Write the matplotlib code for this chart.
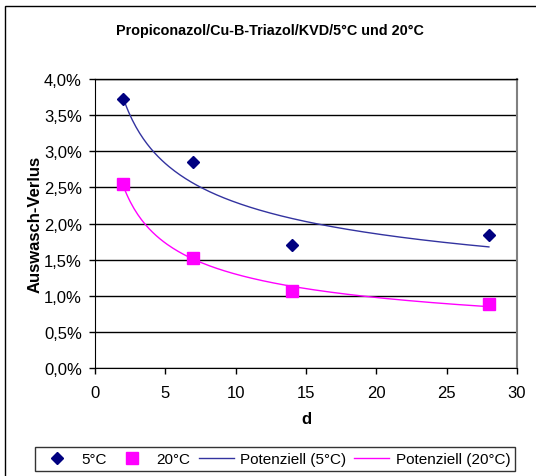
import numpy as np
import matplotlib
matplotlib.use('Agg')
from matplotlib import pyplot as plt
from matplotlib.ticker import FuncFormatter, MultipleLocator
from matplotlib.patches import Rectangle

plt.rcParams['font.family'] = ['Liberation Sans', 'DejaVu Sans']

# Auswasch-Verlust in Prozent je Versuchstag
days = np.array([2, 7, 14, 28])
loss_5c = np.array([3.72, 2.85, 1.70, 1.84])
loss_20c = np.array([2.55, 1.52, 1.07, 0.88])


def power_trend(x, y):
    # Potenzielle Trendlinie y = a * x^b (Anpassung im log-log-Raum)
    b, ln_a = np.polyfit(np.log(x), np.log(y), 1)
    xs = np.linspace(x.min(), x.max(), 200)
    return xs, np.exp(ln_a) * xs ** b


fig = plt.figure(figsize=(5.36, 4.77), dpi=100)
ax = fig.add_axes([0.1772, 0.2264, 0.7874, 0.6059])

xs5, ys5 = power_trend(days, loss_5c)
xs20, ys20 = power_trend(days, loss_20c)

ax.plot(days, loss_5c, linestyle='none', marker='D', color='#000080',
        markersize=6.5, label='5°C', zorder=4)
ax.plot(days, loss_20c, linestyle='none', marker='s', color='#FF00FF',
        markersize=8, label='20°C', zorder=4)
ax.plot(xs5, ys5, color='#3333A0', linewidth=1, label='Potenziell (5°C)', zorder=3)
ax.plot(xs20, ys20, color='#FF00FF', linewidth=1, label='Potenziell (20°C)', zorder=3)

ax.set_xlim(0, 30)
ax.set_ylim(0, 4.0)
ax.xaxis.set_major_locator(MultipleLocator(5))
ax.yaxis.set_major_locator(MultipleLocator(0.5))
ax.yaxis.set_major_formatter(FuncFormatter(lambda v, p: ('%.1f%%' % v).replace('.', ',')))
ax.grid(axis='y', color='black', linewidth=1)
ax.set_axisbelow(True)

for side in ('left', 'bottom', 'top'):
    ax.spines[side].set_color('black')
ax.spines['top'].set_linewidth(1)
ax.spines['right'].set_color('#808080')
ax.spines['right'].set_linewidth(1.5)
ax.tick_params(direction='out', length=4, width=1, labelsize=12, colors='black')
ax.tick_params(axis='y', pad=5.5)
ax.tick_params(axis='x', pad=8)

ax.set_xlabel('d', fontsize=12, fontweight='bold', labelpad=8)
ax.set_ylabel('Auswasch-Verlus', fontsize=12, fontweight='bold', labelpad=1)
fig.text(0.503, 0.935, 'Propiconazol/Cu-B-Triazol/KVD/5°C und 20°C',
         ha='center', va='center', fontsize=10.4, fontweight='bold')

leg = fig.legend(loc='center', bbox_to_anchor=(0.513, 0.0356), ncol=4,
                 fontsize=11, frameon=True, fancybox=False, handlelength=2.3,
                 columnspacing=0.55, handletextpad=0.4, borderpad=0.3,
                 borderaxespad=0.2)
leg.get_frame().set_edgecolor('black')
leg.get_frame().set_linewidth(1)

# Rahmen um das Diagramm
fig.patches.append(Rectangle((5 / 536, -0.1), 1.2, 1.1 - 7 / 477,
                             transform=fig.transFigure, fill=False,
                             edgecolor='black', linewidth=1))

fig.savefig('out.png', dpi=100)
